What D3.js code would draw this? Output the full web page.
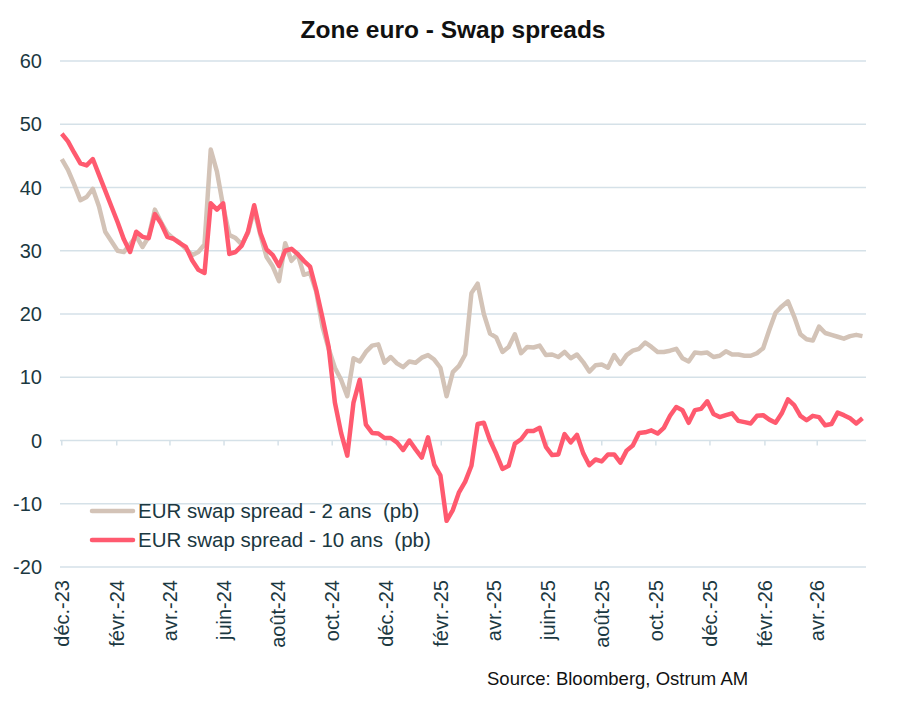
<!DOCTYPE html>
<html>
<head>
<meta charset="utf-8">
<script src="https://cdn.jsdelivr.net/npm/d3@7"></script>
<style>
  body { margin: 0; background: #fff; }
  text { font-family: "Liberation Sans", Arial, sans-serif; }
</style>
</head>
<body>
<div class="chart"></div>
<script>
// weekly readings, starting 1 Dec 2023
let startDate = new Date(2023, 11, 1)

let spread2y = [
  44.5, 42.8, 40.5, 38.0, 38.5, 39.8, 37.0, 33.0, 31.5, 30.0,
  29.8, 31.0, 32.3, 30.6, 32.2, 36.5, 34.5, 32.8, 31.9, 31.3,
  30.3, 29.3, 29.8, 31.0, 46.0, 42.5, 37.0, 32.5, 32.0, 31.0,
  32.8, 36.5, 32.5, 29.0, 27.5, 25.2, 31.2, 28.4, 29.5, 26.2,
  26.5, 23.5, 18.0, 14.5, 11.5, 9.6, 7.0, 13.0, 12.5, 14.0,
  15.0, 15.2, 12.3, 13.2, 12.2, 11.6, 12.5, 12.3, 13.1, 13.5,
  12.8, 11.5, 7.0, 10.8, 11.8, 13.6, 23.3, 24.8, 20.0, 16.9,
  16.3, 14.0, 14.8, 16.8, 13.8, 14.8, 14.7, 15.0, 13.5, 13.6,
  13.2, 14.0, 13.0, 13.6, 12.4, 10.9, 11.9, 12.0, 11.5, 13.5,
  12.1, 13.5, 14.2, 14.5, 15.5, 14.8, 14.0, 14.0, 14.2, 14.5,
  13.0, 12.5, 13.9, 13.8, 13.9, 13.2, 13.4, 14.1, 13.6, 13.6,
  13.4, 13.4, 13.8, 14.6, 17.5, 20.2, 21.2, 22.0, 19.6, 16.8,
  16.0, 15.8, 18.0, 17.0, 16.7, 16.4, 16.1, 16.5, 16.7, 16.5
]

let spread10y = [
  48.5, 47.3, 45.5, 43.8, 43.5, 44.5, 42.0, 39.5, 37.0, 34.5,
  31.8, 29.8, 33.0, 32.2, 32.0, 35.8, 34.3, 32.2, 31.9, 31.2,
  30.6, 28.5, 27.0, 26.5, 37.5, 36.5, 37.5, 29.5, 29.8, 30.8,
  33.0, 37.2, 32.8, 30.2, 29.3, 27.6, 30.0, 30.3, 29.5, 28.4,
  27.5, 23.8, 19.4, 14.8, 6.0, 1.2, -2.4, 6.0, 9.6, 2.5,
  1.2, 1.1, 0.4, 0.4, -0.3, -1.5, 0.0, -1.4, -2.7, 0.5,
  -3.8, -5.5, -12.7, -11.0, -8.2, -6.5, -4.0, 2.6, 2.8, 0.0,
  -2.1, -4.5, -4.0, -0.5, 0.2, 1.5, 1.5, 2.0, -1.0, -2.3,
  -2.2, 1.0, -0.3, 0.9, -2.0, -3.9, -3.0, -3.3, -2.2, -2.2,
  -3.5, -1.6, -0.8, 1.2, 1.3, 1.6, 1.1, 2.0, 3.9, 5.3,
  4.8, 2.8, 4.8, 5.0, 6.2, 4.2, 3.7, 4.0, 4.3, 3.1,
  2.9, 2.7, 3.9, 4.0, 3.3, 2.8, 4.3, 6.5, 5.6, 3.9,
  3.2, 3.9, 3.7, 2.4, 2.6, 4.4, 4.0, 3.5, 2.7, 3.5
]

let tickDates = ["2023-12-01", "2024-02-01", "2024-04-01", "2024-06-01", "2024-08-01",
  "2024-10-01", "2024-12-01", "2025-02-01", "2025-04-01", "2025-06-01", "2025-08-01",
  "2025-10-01", "2025-12-01", "2026-02-01", "2026-04-01"]
let tickLabels = ["déc.-23", "févr.-24", "avr.-24", "juin-24", "août-24", "oct.-24",
  "déc.-24", "févr.-25", "avr.-25", "juin-25", "août-25", "oct.-25", "déc.-25",
  "févr.-26", "avr.-26"]
let yTicks = [-20, -10, 0, 10, 20, 30, 40, 50, 60]

let seriesNames = ["EUR swap spread - 2 ans  (pb)", "EUR swap spread - 10 ans  (pb)"]
let seriesColors = ["#d3c3b7", "#ff5a6f"]

let parseDate = d3.timeParse('%Y-%m-%d')
let dates = spread2y.map((v, i) => d3.timeDay.offset(startDate, 7 * i))

let width = 907, height = 710
let textColor = "#1b3841"
let gridColor = "#d5e1e8"

let svg = d3.select('.chart')
  .append('svg')
  .attr('width', width)
  .attr('height', height)

//scales
let x = d3.scaleTime()
  .domain([new Date(2023, 10, 29), new Date(2026, 4, 26)])
  .range([60, 866])

let y = d3.scaleLinear()
  .domain([-20, 60])
  .range([567, 61])

// grid
svg.append('g')
  .selectAll('line')
  .data(yTicks)
  .join('line')
  .attr('x1', 60).attr('x2', 866)
  .attr('y1', d => y(d)).attr('y2', d => y(d))
  .attr('stroke', gridColor)
  .attr('stroke-width', 1.5)

// y labels
svg.append('g')
  .selectAll('text')
  .data(yTicks)
  .join('text')
  .attr('x', 42)
  .attr('y', d => y(d))
  .attr('dy', '0.35em')
  .attr('text-anchor', 'end')
  .attr('font-size', 20)
  .attr('fill', textColor)
  .text(d => d)

// x ticks on zero line
let ticks = tickDates.map(parseDate)
svg.append('g')
  .selectAll('line')
  .data(ticks)
  .join('line')
  .attr('x1', d => x(d)).attr('x2', d => x(d))
  .attr('y1', y(0)).attr('y2', y(0) + 5)
  .attr('stroke', gridColor)
  .attr('stroke-width', 1.5)

svg.append('g')
  .selectAll('text')
  .data(ticks)
  .join('text')
  .attr('transform', d => `translate(${x(d)},580) rotate(-90)`)
  .attr('dy', '0.35em')
  .attr('text-anchor', 'end')
  .attr('font-size', 20)
  .attr('fill', textColor)
  .text((d, i) => tickLabels[i])

// lines
let line = d3.line()
  .x((d, i) => x(dates[i]))
  .y(d => y(d))

;[spread2y, spread10y].forEach((s, k) => {
  svg.append('path')
    .attr('fill', 'none')
    .attr('stroke', seriesColors[k])
    .attr('stroke-width', 4.5)
    .attr('stroke-linejoin', 'round')
    .attr('d', line(s))
})

// legend
seriesNames.forEach((name, k) => {
  let ly = 511 + k * 29
  svg.append('line')
    .attr('x1', 92).attr('x2', 133)
    .attr('y1', ly).attr('y2', ly)
    .attr('stroke', seriesColors[k])
    .attr('stroke-width', 4.5)
    .attr('stroke-linecap', 'round')
  svg.append('text')
    .attr('x', 138)
    .attr('y', ly)
    .attr('dy', '0.35em')
    .attr('font-size', 20.5)
    .attr('fill', textColor)
    .style('white-space', 'pre')
    .text(name)
})

// title + source
svg.append('text')
  .attr('x', 453).attr('y', 38)
  .attr('text-anchor', 'middle')
  .attr('font-size', 24.5)
  .attr('font-weight', 'bold')
  .attr('fill', '#111')
  .text('Zone euro - Swap spreads')

svg.append('text')
  .attr('x', 487).attr('y', 685)
  .attr('font-size', 18.5)
  .attr('fill', '#111')
  .text('Source: Bloomberg, Ostrum AM')
</script>
</body>
</html>
